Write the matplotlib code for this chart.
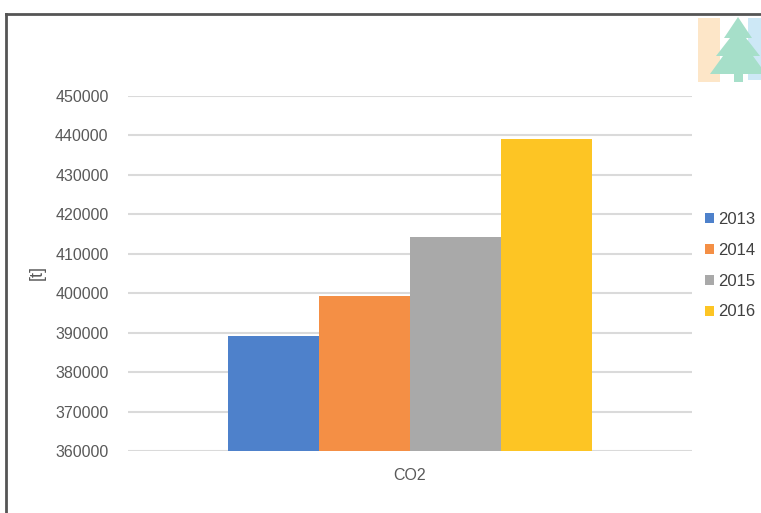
import matplotlib.pyplot as plt
from matplotlib.patches import Polygon, Rectangle
from matplotlib.lines import Line2D

plt.rcParams['font.family'] = ['Liberation Sans', 'DejaVu Sans']

# datos
anios = ['2013', '2014', '2015', '2016']
emisiones = [389150, 399300, 414300, 439200]
colores = ['#4e81cb', '#f48f45', '#a9a9a9', '#fdc524']
categoria = 'CO2'
y_ticks = list(range(360000, 450001, 10000))

fig = plt.figure(figsize=(7.61, 5.13), dpi=100)
ax = fig.add_axes([128 / 761, 1 - 451 / 513, 564 / 761, 355 / 513])

ancho = 0.1614
for i, (anio, valor, color) in enumerate(zip(anios, emisiones, colores)):
    x = (i - 1.5) * ancho
    ax.bar(x, valor - 360000, bottom=360000, width=ancho, color=color, label=anio, zorder=3)

ax.set_xlim(-0.5, 0.5)
ax.set_ylim(360000, 450000)
ax.set_yticks(y_ticks)
ax.set_yticklabels([str(t) for t in y_ticks], fontsize=11.5, color='#595959')
ax.set_xticks([0])
ax.set_xticklabels([categoria], fontsize=11.5, color='#595959')
ax.tick_params(length=0)
ax.tick_params(axis='y', pad=14)
ax.tick_params(axis='x', pad=12)
ax.grid(axis='y', color='#dadada', linewidth=1.5, zorder=0)
for s in ax.spines.values():
    s.set_visible(False)
fig.text(37 / 761, 1 - 272 / 513, '[t]', rotation=90, fontsize=13, color='#595959',
         ha='center', va='center')

# leyenda
fig.legend(loc='upper left', bbox_to_anchor=(705 / 761, 1 - 212 / 513), frameon=False,
           fontsize=12, handlelength=0.55, handleheight=0.55, handletextpad=0.25,
           labelspacing=0.95, labelcolor='#404040', borderaxespad=0, borderpad=0)

# marco
fig.add_artist(Line2D([6 / 761, 1.0], [1 - 14 / 513, 1 - 14 / 513], color='#555555', linewidth=2))
fig.add_artist(Line2D([6 / 761, 6 / 761], [0, 1 - 14 / 513], color='#555555', linewidth=2))

# logo
def px(x, y):
    return (x / 761, 1 - y / 513)

fig.add_artist(Rectangle(px(698, 82), 22 / 761, 64 / 513, transform=fig.transFigure,
                         color='#fde6c8', linewidth=0))
fig.add_artist(Rectangle(px(748, 80), 13 / 761, 62 / 513, transform=fig.transFigure,
                         color='#cde8f6', linewidth=0))
arbol = [(738, 17), (724, 38), (730, 38), (716, 56), (723, 56), (710, 74),
         (734, 74), (734, 82), (743, 82), (743, 74), (766, 74), (753, 56),
         (760, 56), (746, 38), (752, 38)]
fig.add_artist(Polygon([px(x, y) for x, y in arbol], closed=True, transform=fig.transFigure,
                       color='#a6dfc9', linewidth=0))

fig.savefig('out.png', dpi=100)
